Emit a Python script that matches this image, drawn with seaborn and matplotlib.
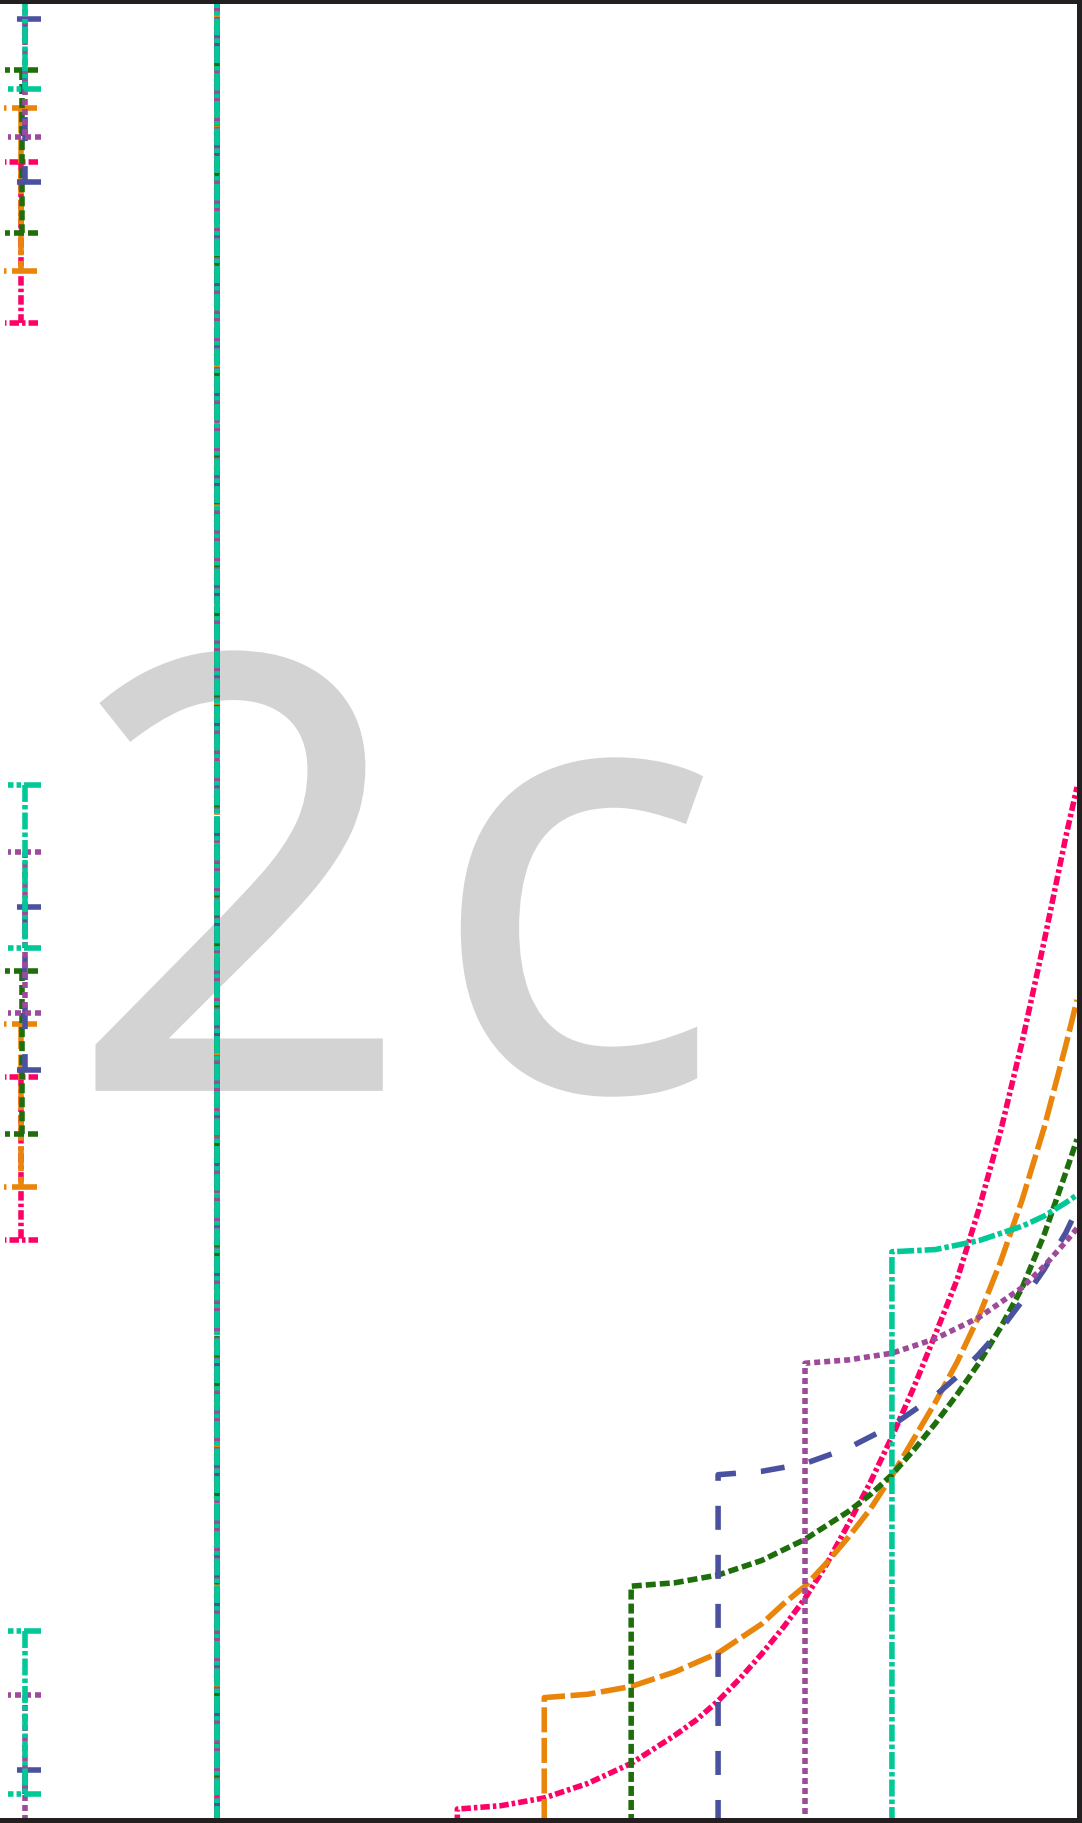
import matplotlib
matplotlib.use('Agg')
import matplotlib.pyplot as plt
import matplotlib.patheffects as pe
import seaborn as sns
import pandas as pd

# ---- data ----
series = ['s1', 's2', 's3', 's4', 's5', 's6']

s1_x = [5, 5, 5.5, 6, 6.5, 7, 7.5, 7.75, 8, 8.25, 8.5, 8.75, 9, 9.25, 9.5, 9.75,
        10, 10.25, 10.5, 10.75, 11, 11.25, 11.5, 11.75, 12, 12.13]
s1_y = [0, 1.00, 1.03, 1.10, 1.23, 1.41, 1.66, 1.80, 1.97, 2.17, 2.39, 2.63, 2.89, 3.20,
        3.56, 3.93, 4.34, 4.78, 5.26, 5.75, 6.38, 7.08, 7.89, 8.78, 9.72, 10.17]

s2_x = [6, 6, 6.5, 7, 7.5, 8, 8.5, 8.75, 9, 9.25, 9.5, 9.75, 10, 10.25, 10.5, 10.75,
        11, 11.25, 11.5, 11.75, 12, 12.13]
s2_y = [0, 2.00, 2.03, 2.10, 2.23, 2.40, 2.66, 2.84, 3.00, 3.21, 3.44, 3.69, 3.99, 4.32,
        4.65, 5.01, 5.42, 5.91, 6.47, 7.11, 7.85, 8.26]

s3_x = [7, 7, 7.5, 8, 8.5, 9, 9.5, 9.75, 10, 10.25, 10.5, 10.75, 11, 11.25, 11.5, 11.75,
        12, 12.13]
s3_y = [0, 3.00, 3.03, 3.10, 3.23, 3.42, 3.67, 3.82, 4.00, 4.22, 4.46, 4.72, 5.00, 5.32,
        5.68, 6.15, 6.71, 7.01]

s4_x = [8, 8, 8.5, 9, 9.5, 10, 10.5, 10.75, 11, 11.25, 11.5, 11.75, 12, 12.13]
s4_y = [0, 4.00, 4.03, 4.10, 4.24, 4.44, 4.71, 4.88, 5.08, 5.30, 5.56, 5.84, 6.17, 6.38]

s5_x = [9, 9, 9.5, 10, 10.5, 11, 11.5, 11.75, 12, 12.13]
s5_y = [0, 5.00, 5.03, 5.09, 5.22, 5.41, 5.68, 5.87, 6.09, 6.21]

s6_x = [10, 10, 10.5, 11, 11.5, 11.75, 12, 12.13]
s6_y = [0, 6.00, 6.02, 6.10, 6.23, 6.32, 6.44, 6.51]

# error bars near x = 0 (low / high ends)
err_x = [-0.015, -0.025, -0.01, 0.02, 0.02, 0.02]
err_lo = [[14.33, 6.11], [14.80, 6.58], [15.14, 7.06],
          [15.60, 7.63, -0.11], [16.00, 8.14, 0.565], [16.43, 8.73, 1.134]]
err_hi = [[15.78, 7.57], [16.26, 8.04], [16.60, 8.52],
          [17.06, 9.09, 1.35], [17.45, 9.59, 2.02], [17.89, 10.19, 2.595]]

vline_x = 2.234

# ---- styles ----
colors = {'s1': '#FF0066', 's2': '#E8850A', 's3': '#1E6E0C',
          's4': '#4A52A0', 's5': '#9E4A9A', 's6': '#00C896'}
dashes = {'s1': (6.8, 2.2, 2.5, 2.2), 's2': (18.0, 4.0), 's3': (7.2, 2.9),
          's4': (17.3, 18.0), 's5': (4.3, 2.9), 's6': (12.2, 2.2, 3.2, 2.2)}
lw = 4.0

sns.set_style('white')
plt.rcParams['lines.scale_dashes'] = False
plt.rcParams['font.family'] = ['Open Sans', 'DejaVu Sans']

xs = [s1_x, s2_x, s3_x, s4_x, s5_x, s6_x]
ys = [s1_y, s2_y, s3_y, s4_y, s5_y, s6_y]
frames = []
for name, x, y in zip(series, xs, ys):
    frames.append(pd.DataFrame({'x': x, 'y': y, 'series': name}))
df = pd.concat(frames, ignore_index=True)

fig = plt.figure(figsize=(10.82, 18.24), dpi=100)
ax = fig.add_axes([0, 0, 1, 1])

# big panel label "2c" behind the lines
label_fx = [pe.Stroke(linewidth=5.8, foreground='#D3D3D3', joinstyle='miter'), pe.Normal()]
for txt, xpos in [('2', 0.0647), ('c', 0.3989)]:
    ax.text(xpos, 0.4036, txt, transform=ax.transAxes, fontsize=430,
            color='#D3D3D3', ha='left', va='baseline', zorder=0.5,
            path_effects=label_fx)

sns.lineplot(data=df, x='x', y='y', hue='series', style='series',
             hue_order=series, style_order=series, palette=colors,
             dashes=dashes, sort=False, estimator=None, linewidth=lw,
             legend=False, ax=ax)

# full-height vertical lines
for name in series:
    ax.axvline(vline_x, color=colors[name], lw=lw, dashes=dashes[name])

# error bars with dashed caps (drawn top-down, caps right-to-left)
cap = 0.19
for i, name in enumerate(series):
    x0 = err_x[i]
    for lo, hi in zip(err_lo[i], err_hi[i]):
        ax.plot([x0, x0], [hi, lo], color=colors[name], lw=lw, dashes=dashes[name])
        for yv in (lo, hi):
            ax.plot([x0 + cap, x0 - cap], [yv, yv], color=colors[name], lw=lw,
                    dashes=dashes[name])

ax.set_xlim(-0.262, 12.187)
ax.set_ylim(0.875, 17.24)
ax.set_xticks([])
ax.set_yticks([])
ax.set_xlabel('')
ax.set_ylabel('')
ax.spines['left'].set_visible(False)
for side in ['top', 'right', 'bottom']:
    ax.spines[side].set_linewidth(7.2)
    ax.spines[side].set_color('#231F20')

fig.savefig('out.png', dpi=100)
